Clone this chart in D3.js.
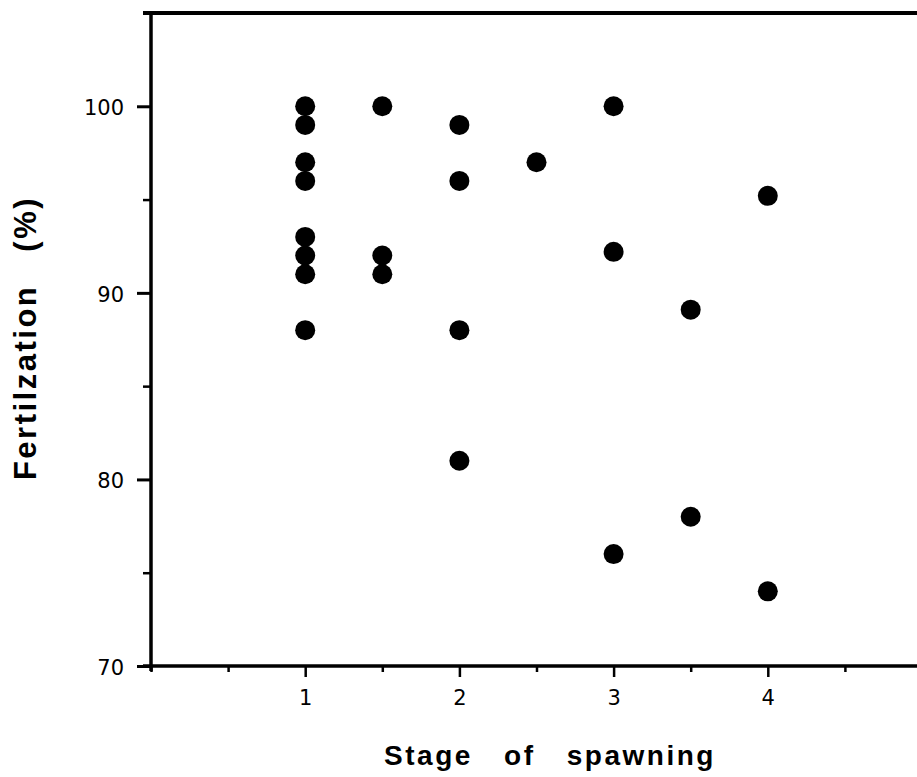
<!DOCTYPE html>
<html>
<head>
<meta charset="utf-8">
<script src="https://cdn.jsdelivr.net/npm/d3@7"></script>
<style>
  html, body { margin: 0; padding: 0; background: #fff; overflow: hidden; }
  svg { display: block; }
  text { fill: #000; }
</style>
</head>
<body>
<svg id="chart" width="917" height="777"></svg>
<script>
// Data
const stages = [1, 1, 1, 1, 1, 1, 1, 1, 1.5, 1.5, 1.5, 2, 2, 2, 2, 2.5, 3, 3, 3, 3.5, 3.5, 4, 4];
const fertilization = [100, 99, 97, 96, 93, 92, 91, 88, 100, 92, 91, 99, 96, 88, 81, 97, 100, 92.2, 76, 89.1, 78, 95.2, 74];
const xTickValues = [1, 2, 3, 4];
const xMinorTicks = [0, 0.5, 1.5, 2.5, 3.5, 4.5];
const yTickValues = [70, 80, 90, 100];
const yMinorTicks = [75, 85, 95];
const xTitle = "Stage of spawning";
const yTitle = "Fertilzation (%)";

const svg = d3.select("#chart");
const x = d3.scaleLinear().domain([0, 5]).range([151, 922]);
const y = d3.scaleLinear().domain([70, 105]).range([666, 13]);

// Top frame line
svg.append("line").attr("x1", 143).attr("x2", 917).attr("y1", y(105)).attr("y2", y(105))
  .attr("stroke", "#000").attr("stroke-width", 4);

const tickFont = "'DejaVu Sans', Verdana, sans-serif";
const titleFont = "'Liberation Sans', Arial, Helvetica, sans-serif";

// Y axis
const yAxis = d3.axisLeft(y).tickValues(yTickValues).tickSize(14).tickPadding(13).tickFormat(d3.format("d"));
const gy = svg.append("g").attr("transform", `translate(${x(0)},0)`).call(yAxis);
gy.select(".domain").attr("stroke-width", 3.5).attr("d", `M0,${y(105)-2}V${y(70)+5}`);
gy.selectAll(".tick line").attr("stroke-width", 3);
gy.selectAll(".tick text").attr("dy", "0.4em")
  .style("font-family", tickFont).style("font-size", "21px");
const yMinor = d3.axisLeft(y).tickValues(yMinorTicks).tickSize(8).tickFormat("");
const gym = svg.append("g").attr("transform", `translate(${x(0)},0)`).call(yMinor);
gym.select(".domain").remove();
gym.selectAll(".tick line").attr("stroke-width", 2.5);

// X axis
const xAxis = d3.axisBottom(x).tickValues(xTickValues).tickSize(11).tickPadding(13).tickFormat(d3.format("d"));
const gx = svg.append("g").attr("transform", `translate(0,${y(70)})`).call(xAxis);
gx.select(".domain").attr("stroke-width", 3.5).attr("d", `M${x(0)-8},0H917`);
gx.selectAll(".tick line").attr("stroke-width", 2.5);
gx.selectAll(".tick text").style("font-family", tickFont).style("font-size", "21px");
const xMinor = d3.axisBottom(x).tickValues(xMinorTicks).tickSize(6).tickFormat("");
const gxm = svg.append("g").attr("transform", `translate(0,${y(70)})`).call(xMinor);
gxm.select(".domain").remove();
gxm.selectAll(".tick line").attr("stroke-width", 2.5);

// Points
const pts = stages.map((s, i) => ({ s, f: fertilization[i] }));
svg.append("g").selectAll("circle").data(pts).join("circle")
  .attr("cx", d => x(d.s)).attr("cy", d => y(d.f)).attr("r", 10).attr("fill", "#000");

// Axis titles
svg.append("text").attr("x", 550).attr("y", 765).attr("text-anchor", "middle")
  .style("font-family", titleFont)
  .style("font-size", "28px").style("font-weight", "bold")
  .style("letter-spacing", "2.5px").style("word-spacing", "21px")
  .text(xTitle);
svg.append("text").attr("transform", "translate(36,338) rotate(-90)").attr("text-anchor", "middle")
  .style("font-family", titleFont)
  .style("font-size", "31px").style("font-weight", "bold")
  .style("letter-spacing", "2.5px").style("word-spacing", "22px")
  .text(yTitle);
</script>
</body>
</html>
